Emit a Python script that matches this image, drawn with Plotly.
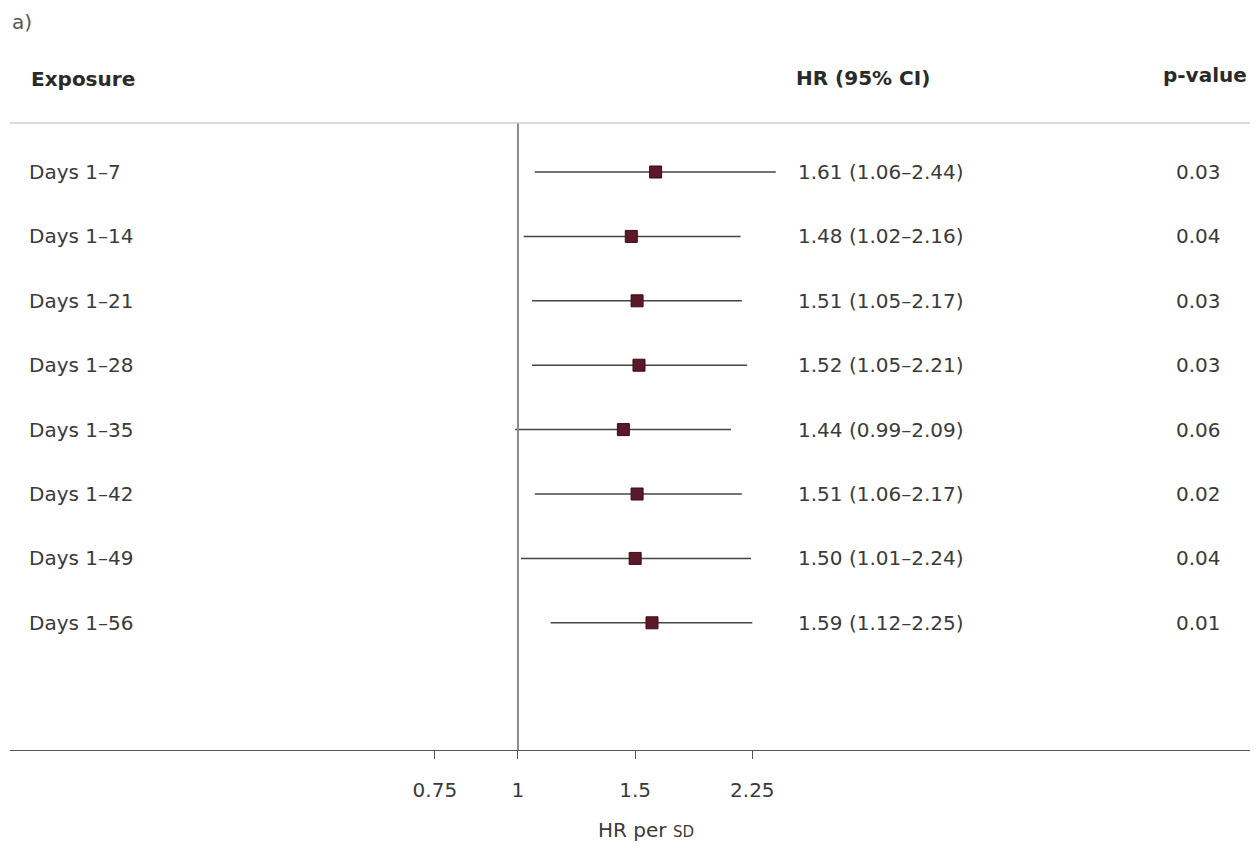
import plotly.graph_objects as go

exposures = ["Days 1\u20137", "Days 1\u201314", "Days 1\u201321", "Days 1\u201328",
             "Days 1\u201335", "Days 1\u201342", "Days 1\u201349", "Days 1\u201356"]
hr = [1.61, 1.48, 1.51, 1.52, 1.44, 1.51, 1.50, 1.59]
ci_low = [1.06, 1.02, 1.05, 1.05, 0.99, 1.06, 1.01, 1.12]
ci_high = [2.44, 2.16, 2.17, 2.21, 2.09, 2.17, 2.24, 2.25]
p_values = ["0.03", "0.04", "0.03", "0.03", "0.06", "0.02", "0.04", "0.01"]
tick_vals = [0.75, 1, 1.5, 2.25]
tick_text = ["0.75", "1", "1.5", "2.25"]

FONT = "DejaVu Sans"
TXT = "#3a3a3a"
FS = 20

rows = list(range(len(exposures)))

fig = go.Figure()

# CI lines
lx, ly = [], []
for i in rows:
    lx += [ci_low[i], ci_high[i], None]
    ly += [i, i, None]
fig.add_trace(go.Scatter(x=lx, y=ly, mode="lines",
                         line=dict(color="#444444", width=1.5),
                         hoverinfo="skip", showlegend=False))
# Point estimates
fig.add_trace(go.Scatter(x=hr, y=rows, mode="markers",
                         marker=dict(symbol="square", size=12, color="#5a1828",
                                     line=dict(color="#3a0c16", width=1)),
                         showlegend=False))

ann = []
for i in rows:
    ann.append(dict(x=(27 - 10) / 1248, xref="paper", y=i, yref="y", text=exposures[i],
                    showarrow=False, xanchor="left", yanchor="middle",
                    font=dict(family=FONT, size=FS, color=TXT)))
    ann.append(dict(x=(796 - 10) / 1248, xref="paper", y=i, yref="y",
                    text=f"{hr[i]:.2f} ({ci_low[i]:.2f}\u2013{ci_high[i]:.2f})",
                    showarrow=False, xanchor="left", yanchor="middle",
                    font=dict(family=FONT, size=FS, color=TXT)))
    ann.append(dict(x=(1198 - 10) / 1248, xref="paper", y=i, yref="y", text=p_values[i],
                    showarrow=False, xanchor="center", yanchor="middle",
                    font=dict(family=FONT, size=FS, color=TXT)))

def py(pix):
    return (750 - pix) / 627

ann += [
    dict(x=(10 - 10) / 1248, xref="paper", y=py(22), yref="paper", text="a)",
         showarrow=False, xanchor="left", yanchor="middle",
         font=dict(family=FONT, size=20, color="#555555")),
    dict(x=(29 - 10) / 1248, xref="paper", y=py(79), yref="paper", text="<b>Exposure</b>",
         showarrow=False, xanchor="left", yanchor="middle",
         font=dict(family=FONT, size=FS, color="#2a2a2a")),
    dict(x=(794 - 10) / 1248, xref="paper", y=py(78), yref="paper", text="<b>HR (95% CI)</b>",
         showarrow=False, xanchor="left", yanchor="middle",
         font=dict(family=FONT, size=FS, color="#2a2a2a")),
    dict(x=(1205 - 10) / 1248, xref="paper", y=py(75), yref="paper", text="<b>p-value</b>",
         showarrow=False, xanchor="center", yanchor="middle",
         font=dict(family=FONT, size=FS, color="#2a2a2a")),
    dict(x=(646 - 10) / 1248, xref="paper", y=py(830), yref="paper",
         text="HR per <span style='font-size:15px'>SD</span>",
         showarrow=False, xanchor="center", yanchor="middle",
         font=dict(family=FONT, size=FS, color=TXT)),
]

shapes = [
    dict(type="line", xref="x", yref="paper", x0=1, x1=1, y0=0, y1=1,
         line=dict(color="#8c8c8c", width=2)),
    dict(type="line", xref="paper", yref="paper", x0=0, x1=1, y0=1, y1=1,
         line=dict(color="#cfcfcf", width=1.5)),
]

fig.update_layout(
    width=1250, height=840,
    margin=dict(l=2, r=0, t=115, b=98),
    paper_bgcolor="white", plot_bgcolor="white",
    annotations=ann, shapes=shapes,
    xaxis=dict(type="log", range=[-0.7634, 1.1121],
               tickvals=tick_vals, ticktext=tick_text,
               ticks="outside", ticklen=8, tickcolor="#555555", tickwidth=1.2,
               showline=True, linecolor="#555555", linewidth=1.3,
               showgrid=False, zeroline=False,
               tickfont=dict(family=FONT, size=FS, color=TXT),
               ticklabelstandoff=14),
    yaxis=dict(range=[8.975, -0.761], visible=False, showgrid=False, zeroline=False),
)

fig.write_html("out.html")
